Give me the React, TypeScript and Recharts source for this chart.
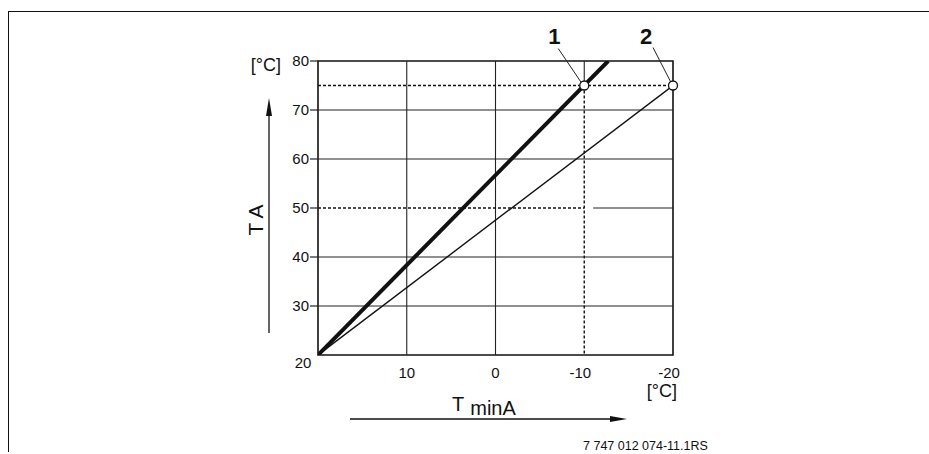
import { ComposedChart, Line, XAxis, YAxis, ReferenceLine, ReferenceArea, ReferenceDot } from "recharts";

// outside temperature (x) vs flow temperature (y)
const xTicks = [20, 10, 0, -10, -20];
const yTicks = [20, 30, 40, 50, 60, 70, 80];
const gridY = [30, 40, 60, 70];
const gridX = [10, 0];

const curve1 = [
  { x: 20, y: 20 },
  { x: -12.7, y: 80 },
];
const curve2 = [
  { x: 20, y: 20 },
  { x: -20, y: 75 },
];

const markers = [
  { x: -10, y: 75, label: "1", lead: [-26, -37, -3, -3], tx: -30 },
  { x: -20, y: 75, label: "2", lead: [-20, -38, -2, -3], tx: -27 },
];

// dotted guide lines [x1, y1, x2, y2]
const dotted = [
  [20, 75, -20, 75],
  [20, 50, -10, 50],
  [-10, 75, -10, 20],
];
// partial solid grid pieces
const solidPieces = [
  [-11, 50, -20, 50],
  [-10, 80, -10, 75],
];

const FONT = "'Liberation Sans', Arial, sans-serif";

const YTick = (props: any) => {
  const { x, y, payload } = props;
  if (payload.value === 20) {
    return (
      <text x={x - 15} y={y + 13} textAnchor="middle" fontSize={15} fontFamily={FONT} fill="#111">
        20
      </text>
    );
  }
  return (
    <g>
      <line x1={x - 8} x2={x} y1={y} y2={y} stroke="#222" strokeWidth={1.2} />
      <text x={x - 9} y={y + 5} textAnchor="end" fontSize={15} fontFamily={FONT} fill="#111">
        {payload.value}
      </text>
    </g>
  );
};

const XTick = (props: any) => {
  const { x, y, payload } = props;
  if (payload.value === 20) return <g />;
  const dx = payload.value < 0 ? -4 : 0;
  return (
    <text x={x + dx} y={y + 23} textAnchor="middle" fontSize={15} fontFamily={FONT} fill="#111">
      {payload.value}
    </text>
  );
};

const markerShape = (m: (typeof markers)[number]) => (props: any) => {
  const { cx, cy } = props;
  const [a, b, c, d] = m.lead;
  return (
    <g>
      <line x1={cx + a} y1={cy + b} x2={cx + c} y2={cy + d} stroke="#222" strokeWidth={1} />
      <circle cx={cx} cy={cy} r={4.5} fill="#fff" stroke="#111" strokeWidth={1.3} />
      <text
        x={cx + m.tx}
        y={cy - 42}
        textAnchor="middle"
        fontSize={22}
        fontWeight="bold"
        fontFamily="'Liberation Sans Narrow', 'Liberation Sans', Arial, sans-serif"
        fill="#111"
      >
        {m.label}
      </text>
    </g>
  );
};

export default function App() {
  return (
    <div style={{ position: "absolute", left: 0, top: 0, width: 929, height: 454, background: "#fff", fontFamily: FONT }}>
      <div
        style={{
          position: "absolute",
          left: 8,
          top: 11,
          width: 921,
          height: 440,
          borderTop: "1.5px solid #111",
          borderLeft: "1.5px solid #111",
        }}
      />
      <ComposedChart
        width={929}
        height={454}
        margin={{ top: 61, right: 256, bottom: 59, left: 278 }}
        style={{ position: "absolute", left: 0, top: 0 }}
      >
        <XAxis
          type="number"
          dataKey="x"
          domain={[-20, 20]}
          reversed
          ticks={xTicks}
          interval={0}
          height={40}
          axisLine={false}
          tickLine={false}
          tickSize={0}
          tickMargin={0}
          tick={<XTick />}
          allowDataOverflow
        />
        <YAxis
          type="number"
          dataKey="y"
          domain={[20, 80]}
          ticks={yTicks}
          interval={0}
          width={40}
          axisLine={false}
          tickLine={false}
          tickSize={0}
          tickMargin={0}
          tick={<YTick />}
          allowDataOverflow
        />
        {gridY.map((v) => (
          <ReferenceLine key={"gy" + v} y={v} stroke="#222" strokeWidth={1.1} />
        ))}
        {gridX.map((v) => (
          <ReferenceLine key={"gx" + v} x={v} stroke="#222" strokeWidth={1.1} />
        ))}
        {solidPieces.map((s, i) => (
          <ReferenceLine
            key={"sp" + i}
            segment={[{ x: s[0], y: s[1] }, { x: s[2], y: s[3] }]}
            stroke="#222"
            strokeWidth={1.1}
          />
        ))}
        {dotted.map((s, i) => (
          <ReferenceLine
            key={"dl" + i}
            segment={[{ x: s[0], y: s[1] }, { x: s[2], y: s[3] }]}
            stroke="#111"
            strokeWidth={1.4}
            strokeDasharray="3 2"
          />
        ))}
        <ReferenceArea x1={20} x2={-20} y1={20} y2={80} fill="none" stroke="#111" strokeWidth={1.6} />
        <Line
          data={curve2}
          dataKey="y"
          type="linear"
          stroke="#111"
          strokeWidth={1.4}
          dot={false}
          isAnimationActive={false}
        />
        <Line
          data={curve1}
          dataKey="y"
          type="linear"
          stroke="#111"
          strokeWidth={4}
          dot={false}
          isAnimationActive={false}
        />
        {markers.map((m) => (
          <ReferenceDot key={m.label} x={m.x} y={m.y} r={4.5} ifOverflow="visible" shape={markerShape(m)} />
        ))}
      </ComposedChart>
      <svg width={929} height={454} style={{ position: "absolute", left: 0, top: 0, pointerEvents: "none" }}>
        <text x={281} y={71} textAnchor="end" fontSize={18} fontFamily={FONT} fill="#111">
          [°C]
        </text>
        <text
          x={0}
          y={0}
          transform="translate(263 220) rotate(-90)"
          textAnchor="middle"
          fontSize={21}
          fontFamily={FONT}
          fill="#111"
        >
          T A
        </text>
        <line x1={269} y1={333} x2={269} y2={110} stroke="#111" strokeWidth={1.3} />
        <polygon points="269,98 266,116 272,116" fill="#111" />
        <text x={452} y={411} fontSize={20} fontFamily={FONT} fill="#111">
          T
          <tspan dx={6} dy={4}>
            minA
          </tspan>
        </text>
        <line x1={350} y1={419} x2={612} y2={419} stroke="#111" strokeWidth={1.3} />
        <polygon points="627,419 610,416 610,422" fill="#111" />
        <text x={677} y={397} textAnchor="end" fontSize={18} fontFamily={FONT} fill="#111">
          [°C]
        </text>
        <text x={583} y={450} fontSize={12.5} fontFamily={FONT} fill="#111">
          7 747 012 074-11.1RS
        </text>
      </svg>
    </div>
  );
}
